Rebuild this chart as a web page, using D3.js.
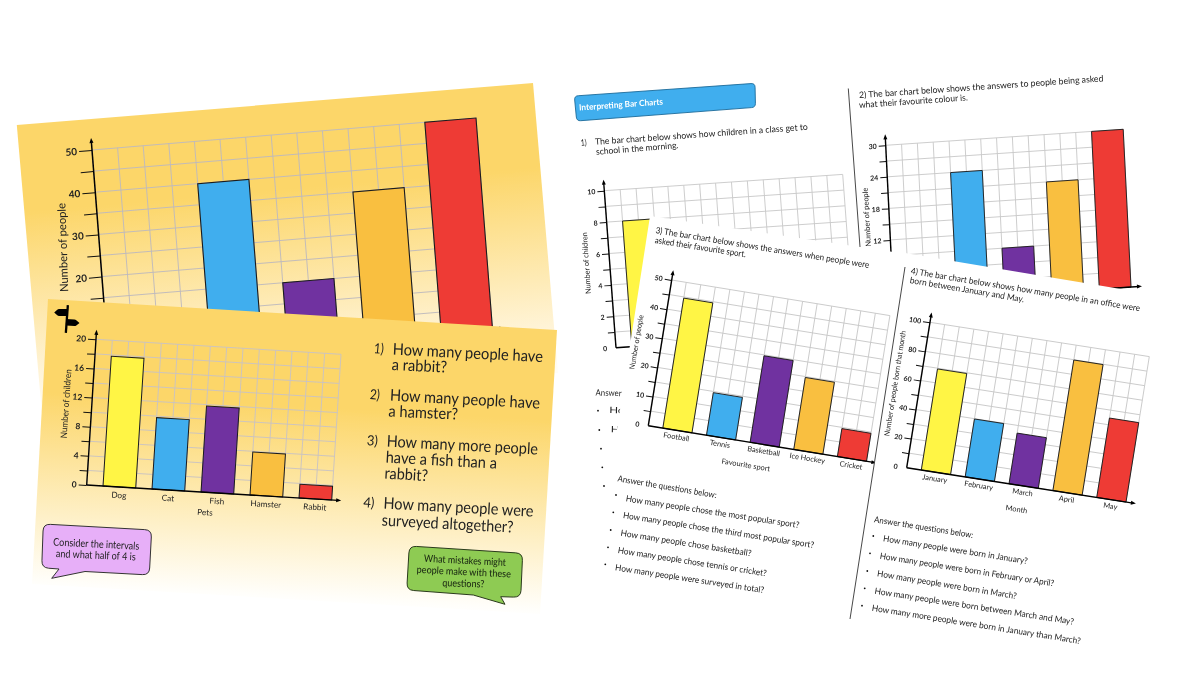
<!DOCTYPE html>
<html>
<head>
<meta charset="utf-8">
<title>Interpreting Bar Charts</title>
<script src="https://cdn.jsdelivr.net/npm/d3@7"></script>
<style>
    html, body { margin: 0; padding: 0; background: #fff; }
    svg { display: block; }
    text { font-family: Lato, "Open Sans", sans-serif; fill: #222; }
</style>
</head>
<body>
<div id="chart-area"></div>
<script>
// Slide charts
var slotLabels = ["1", "2", "3", "4", "5"];
var slideTopValues = [null, 40, 15, 35, 50];
var petLabels = ["Dog", "Cat", "Fish", "Hamster", "Rabbit"];
var petValues = [17.8, 9.8, 11.8, 5.9, 1.9];

// Worksheet charts
var travelValues = [8, null, null, null, null];
var colourValues = [null, 24, 9, 21, 30];
var sportLabels = ["Football", "Tennis", "Basketball", "Ice Hockey", "Cricket"];
var sportValues = [44.6, 14.6, 29.7, 24.7, 9.6];
var monthLabels = ["January", "February", "March", "April", "May"];
var monthValues = [69.5, 39.8, 34.8, 89.8, 54.6];

// Bar colours, same order on every chart
var barColours = ["#fff544", "#3faeee", "#7030a0", "#f9bf41", "#ee3a35"];

// Text
var slideQuestions = [
    "1)", "How many people have", "a rabbit?",
    "2)", "How many people have", "a hamster?",
    "3)", "How many more people", "have a fish than a", "rabbit?",
    "4)", "How many people were", "surveyed altogether?"
];
var slideQuestionPos = [
    [374, 348, 384, 349], [392.7, 349, 543, 356.5], [391.7, 364.5, 447, 367],
    [370, 394, 380, 395], [390, 395, 540, 403], [388.5, 411, 458, 414],
    [367, 440, 378, 441], [386.7, 441, 538, 449], [385.7, 457, 497, 463], [384.5, 473, 428, 475.5],
    [363.5, 502, 374.5, 503], [383.5, 503, 533.5, 511], [381.7, 520, 513.5, 527]
];
var sportQuestions = [
    "Answer the questions below:",
    "How many people chose the most popular sport?",
    "How many people chose the third most popular sport?",
    "How many people chose basketball?",
    "How many people chose tennis or cricket?",
    "How many people were surveyed in total?"
];
var sportQuestionPos = [
    [617.7, 478.3, 716.7, 495], [626, 498.3, 799.3, 525], [623.3, 515, 814, 545],
    [620.7, 532.7, 751.3, 553.3], [618, 550, 766.7, 573.3], [615.3, 567.3, 764, 590]
];
var monthQuestions = [
    "Answer the questions below:",
    "How many people were born in January?",
    "How many people were born in February or April?",
    "How many people were born in March?",
    "How many people were born between March and May?",
    "How many more people were born in January than March?"
];
var monthQuestionPos = [
    [874.3, 519.3, 973.3, 535], [883.3, 538.3, 1027.7, 561], [880, 555.7, 1054, 583.3],
    [877.3, 573.3, 1016.7, 596], [874.7, 590.7, 1074, 621.7], [872, 607.7, 1080.7, 641]
];

var width = 1200, height = 675;
var sheetFont = 8.7;

var svg = d3.select("#chart-area")
    .append("svg")
        .attr("width", width)
        .attr("height", height);

var defs = svg.append("defs");

defs.append("filter")
    .attr("id", "soft")
    .attr("x", 0).attr("y", 0).attr("width", 1).attr("height", 1)
    .attr("filterUnits", "objectBoundingBox")
    .append("feGaussianBlur")
    .attr("stdDeviation", 0.35);

// slide backgrounds fade from yellow to white
function addGradient(id, p, stops){
    var grad = defs.append("linearGradient")
        .attr("id", id)
        .attr("gradientUnits", "userSpaceOnUse")
        .attr("x1", p[0]).attr("y1", p[1])
        .attr("x2", p[2]).attr("y2", p[3]);
    stops.forEach(function(s){
        grad.append("stop").attr("offset", s[0]).attr("stop-color", s[1]);
    });
}
addGradient("slide-top", [16.8, 125, 42, 414], [[0, "#fcd669"], [0.3, "#fcd669"], [0.88, "#fff5dc"], [1, "#fffdf6"]]);
addGradient("slide-pets", [48, 299, 32, 590], [[0, "#fcd669"], [0.32, "#fcd669"], [0.97, "#fffefa"], [1, "#ffffff"]]);

var root = svg.append("g")
    .attr("filter", "url(#soft)");

// full size rect so the filter region covers the page
root.append("rect").attr("width", width).attr("height", height).attr("fill", "#fff");

function polygon(parent, pts, fill){
    return parent.append("polygon")
        .attr("points", pts.map(function(p){ return p.join(","); }).join(" "))
        .attr("fill", fill);
}

// one line of text stretched between two points, p = [x0, y0, x1, y1]
function textLine(parent, str, p, size, colour, weight){
    var angle = Math.atan2(p[3] - p[1], p[2] - p[0]) * 180 / Math.PI;
    var len = Math.sqrt((p[2] - p[0]) * (p[2] - p[0]) + (p[3] - p[1]) * (p[3] - p[1]));
    return parent.append("text")
        .attr("transform", "translate(" + p[0] + "," + p[1] + ") rotate(" + angle + ")")
        .attr("dy", "0.35em")
        .attr("font-size", size)
        .attr("font-weight", weight || 400)
        .attr("textLength", len)
        .attr("lengthAdjust", "spacingAndGlyphs")
        .style("fill", colour || "#222")
        .text(str);
}

// polygon with rounded corners, radii[i] is the radius at pts[i]
function roundedPath(pts, radii){
    var path = d3.path();
    var n = pts.length;
    pts.forEach(function(p, i){
        var prev = pts[(i + n - 1) % n], next = pts[(i + 1) % n];
        var r = radii[i];
        var d1 = Math.hypot(prev[0] - p[0], prev[1] - p[1]);
        var d2 = Math.hypot(next[0] - p[0], next[1] - p[1]);
        var a = [p[0] + (prev[0] - p[0]) * r / d1, p[1] + (prev[1] - p[1]) * r / d1];
        var b = [p[0] + (next[0] - p[0]) * r / d2, p[1] + (next[1] - p[1]) * r / d2];
        if (i == 0) path.moveTo(a[0], a[1]); else path.lineTo(a[0], a[1]);
        path.quadraticCurveTo(p[0], p[1], b[0], b[1]);
    });
    path.closePath();
    return path.toString();
}

function callout(parent, pts, radii, fill, stroke, sw){
    parent.append("path")
        .attr("d", roundedPath(pts, radii))
        .attr("fill", fill)
        .attr("stroke", stroke)
        .attr("stroke-width", sw);
}

// Draw one chart. The three points o.O, o.X, o.Y are where the origin, the end
// of the x axis and the top of the y axis land on the tilted page.
function barChart(parent, o){
    var W = Math.hypot(o.X[0] - o.O[0], o.X[1] - o.O[1]);
    var H = Math.hypot(o.Y[0] - o.O[0], o.Y[1] - o.O[1]);
    var a = (o.X[0] - o.O[0]) / W, b = (o.X[1] - o.O[1]) / W;
    var c = (o.O[0] - o.Y[0]) / H, d = (o.O[1] - o.Y[1]) / H;

    var g = parent.append("g")
        .attr("transform", "matrix(" + [a, b, c, d, o.Y[0], o.Y[1]].join(",") + ")");

    var y = d3.scaleLinear().domain([0, o.max]).range([H, 0]);
    var x = d3.scaleBand()
        .domain(o.categories)
        .range([0, W])
        .paddingInner(1 / 3)
        .paddingOuter(1 / 6)
        .align(1);

    // grid, 15 columns
    var rows = d3.range(0, o.max + o.rowStep / 2, o.rowStep);
    g.selectAll(".grid-row").data(rows).enter().append("line")
        .attr("x1", 0).attr("x2", W)
        .attr("y1", function(v){ return y(v); })
        .attr("y2", function(v){ return y(v); })
        .attr("stroke", o.gridColour)
        .attr("stroke-width", 0.9);
    g.selectAll(".grid-col").data(d3.range(0, 16)).enter().append("line")
        .attr("x1", function(i){ return i * W / 15; })
        .attr("x2", function(i){ return i * W / 15; })
        .attr("y1", 0).attr("y2", H)
        .attr("stroke", o.gridColour)
        .attr("stroke-width", 0.9);

    // bars
    g.selectAll(".bar").data(o.values).enter().append("rect")
        .filter(function(v){ return v != null; })
        .attr("x", function(v){ return x(o.categories[o.values.indexOf(v)]); })
        .attr("y", function(v){ return y(v); })
        .attr("width", x.bandwidth())
        .attr("height", function(v){ return H - y(v); })
        .attr("fill", function(v){ return barColours[o.values.indexOf(v)]; })
        .attr("stroke", "#1c1c1c")
        .attr("stroke-width", o.barStroke);

    // y axis ticks and labels
    var yAxis = d3.axisLeft(y)
        .tickValues(rows)
        .tickSize(o.tickSize)
        .tickPadding(2)
        .tickFormat(function(v){ return v % o.labelStep == 0 ? v : ""; });
    var yGroup = g.append("g").call(yAxis);
    yGroup.select(".domain").remove();
    yGroup.selectAll(".tick line").attr("stroke", "#111").attr("stroke-width", 1);
    if (!o.zeroStub){
        yGroup.selectAll(".tick").filter(function(v){ return v == 0; }).select("line").remove();
    }
    yGroup.selectAll("text")
        .attr("font-size", o.tickFont)
        .attr("font-weight", 700)
        .style("font-family", "Lato, sans-serif");

    // axis lines with arrow heads
    var over = o.overshoot;
    g.append("line")
        .attr("x1", 0).attr("x2", 0)
        .attr("y1", H).attr("y2", -over + 3)
        .attr("stroke", "#000").attr("stroke-width", o.axisStroke);
    polygon(g, [[0, -over], [-2, -over + 5], [2, -over + 5]], "#000");
    g.append("line")
        .attr("x1", 0).attr("x2", W + over - 3)
        .attr("y1", H).attr("y2", H)
        .attr("stroke", "#000").attr("stroke-width", o.axisStroke);
    polygon(g, [[W + over, H], [W + over - 5, H - 2], [W + over - 5, H + 2]], "#000");

    // x labels
    if (o.showLabels){
        g.selectAll(".x-label").data(o.categories).enter().append("text")
            .attr("x", function(c){ return x(c) + x.bandwidth() / 2; })
            .attr("y", H + o.labelGap)
            .attr("text-anchor", "middle")
            .attr("font-size", o.labelFont)
            .text(function(c){ return c; });
        g.append("text")
            .attr("x", W / 2 + o.titleDx)
            .attr("y", H + o.titleGap)
            .attr("text-anchor", "middle")
            .attr("font-size", o.labelFont)
            .text(o.xTitle);
    }

    // y title sits on the page
    textLine(parent, o.yTitle, o.yTitlePos, o.yTitleFont);
}

// ---------- top slide ----------
var slideTop = root.append("g");
polygon(slideTop, [[16.8, 125], [533, 83], [558, 373], [42, 414]], "url(#slide-top)");
barChart(slideTop, {
    O: [108.5, 361], X: [492.5, 329], Y: [92, 150],
    categories: slotLabels, values: slideTopValues,
    max: 50, rowStep: 5, labelStep: 10,
    gridColour: "#bdb9bd", barStroke: 1.1, axisStroke: 1.5,
    tickSize: 13, tickFont: 10, overshoot: 12,
    showLabels: false, yTitle: "Number of people",
    yTitlePos: [64.3, 292, 61.4, 203], yTitleFont: 11.5
});

// ---------- pets slide ----------
var slidePets = root.append("g");
polygon(slidePets, [[48, 299], [557, 330], [540, 614], [32, 584]], "url(#slide-pets)");

// signpost
var sign = slidePets.append("g").attr("fill", "#000");
polygon(sign, [[66.7, 305], [69, 305.2], [67, 333], [64.7, 332.8]], "#000");
sign.append("path").attr("d", roundedPath(
    [[68, 309], [68, 316], [58, 316], [54.2, 312.5], [58, 309]], [0, 0, 1, 0, 1]));
sign.append("path").attr("d", roundedPath(
    [[66, 319], [75.5, 319.5], [79.5, 323], [75.5, 326], [66, 325.5]], [0, 1, 0, 1, 0]));

barChart(slidePets, {
    O: [86.7, 485], X: [331.7, 500], Y: [96, 339.3],
    categories: petLabels, values: petValues,
    max: 20, rowStep: 2, labelStep: 4,
    gridColour: "#c9c3c2", barStroke: 1, axisStroke: 1.4,
    tickSize: 8, tickFont: 8.5, overshoot: 9.5, zeroStub: true,
    showLabels: true, labelGap: 11, labelFont: 8.2,
    xTitle: "Pets", titleGap: 23, titleDx: -3,
    yTitle: "Number of children", yTitlePos: [63.5, 438.3, 68.3, 369.3], yTitleFont: 9
});

slideQuestions.forEach(function(q, i){
    textLine(slidePets, q, slideQuestionPos[i], q.length == 2 ? 14 : 16);
});

callout(slidePets,
    [[43.3, 524], [151.7, 530], [149.3, 575], [85, 571.5], [51.7, 578.3], [59, 569], [41.7, 567.7]],
    [7, 7, 7, 0, 0, 0, 7], "#e7aff8", "#333", 1);
textLine(slidePets, "Consider the intervals", [53.3, 541.7, 139.3, 546], 10.5, "#222");
textLine(slidePets, "and what half of 4 is", [56, 553.3, 135.7, 556.7], 10.5, "#222");

callout(slidePets,
    [[409.3, 546], [522.7, 553.3], [520.7, 597.3], [500.7, 596.7], [505, 604.3], [473.3, 595], [406.7, 590]],
    [7, 7, 7, 0, 0, 0, 7], "#8ecb52", "#2a3a1c", 1);
textLine(slidePets, "What mistakes might", [424, 558.3, 506, 562.3], 10, "#1c2a14", 500);
textLine(slidePets, "people make with these", [416.7, 569.3, 511, 574], 10, "#1c2a14", 500);
textLine(slidePets, "questions?", [442.3, 582.7, 484.3, 584], 10, "#1c2a14", 500);

// ---------- worksheet, back pages ----------
var sheetBack = root.append("g");

var titleBox = [[574.3, 96], [755, 83.3], [755.5, 107.3], [576.7, 121]];
callout(sheetBack, titleBox, [4, 4, 4, 4], "#3faeee", "#1d6b9a", 0.9);
textLine(sheetBack, "Interpreting Bar Charts", [579, 107.5, 663, 101.5], 8.5, "#fff", 700);

textLine(sheetBack, "1)", [580.7, 142.7, 586.5, 142.2], sheetFont);
textLine(sheetBack, "The bar chart below shows how children in a class get to", [595, 141.7, 807.7, 126.7], sheetFont);
textLine(sheetBack, "school in the morning.", [596, 151.7, 678.3, 145], sheetFont);

barChart(sheetBack, {
    O: [616, 347.7], X: [854.4, 331.4], Y: [604.3, 190.7],
    categories: slotLabels, values: travelValues,
    max: 10, rowStep: 1, labelStep: 2,
    gridColour: "#c9c9c9", barStroke: 0.9, axisStroke: 1.4,
    tickSize: 7, tickFont: 7, overshoot: 11,
    showLabels: false, yTitle: "Number of children",
    yTitlePos: [588.3, 294, 584.3, 232.3], yTitleFont: 7.5
});

textLine(sheetBack, "Answer the questions below:", [595.7, 392.5, 694, 395], sheetFont);
// the rest of this list is behind the sport page
[[609.3, 410, 700, 412], [610.7, 429.3, 700, 431]].forEach(function(p){
    textLine(sheetBack, "How many people", p, sheetFont);
});
[[598, 410.7], [599.3, 430], [601, 448.7], [602.3, 467.3], [604, 486]].forEach(function(p){
    sheetBack.append("circle").attr("cx", p[0]).attr("cy", p[1]).attr("r", 0.9).attr("fill", "#111");
});

// divider between the two back pages
sheetBack.append("line")
    .attr("x1", 848.3).attr("y1", 88.5).attr("x2", 860).attr("y2", 247)
    .attr("stroke", "#333").attr("stroke-width", 0.9);

textLine(sheetBack, "2) The bar chart below shows the answers to people being asked", [859, 95, 1103.3, 78.3], sheetFont);
textLine(sheetBack, "what their favourite colour is.", [859, 105, 967.7, 97.3], sheetFont);

barChart(sheetBack, {
    O: [893.5, 303], X: [1131, 287], Y: [885.7, 145.3],
    categories: slotLabels, values: colourValues,
    max: 30, rowStep: 3, labelStep: 6,
    gridColour: "#c9c9c9", barStroke: 0.9, axisStroke: 1.4,
    tickSize: 7, tickFont: 7, overshoot: 11,
    showLabels: false, yTitle: "Number of people",
    yTitlePos: [868.3, 246.7, 865, 187.7], yTitleFont: 7.5
});

// ---------- sport page ----------
var sheetSport = root.append("g");
polygon(sheetSport, [[650, 216], [907, 254], [875, 640], [589, 610]], "#fff");

textLine(sheetSport, "3) The bar chart below shows the answers when people were", [655.7, 230, 869.3, 265], sheetFont);
textLine(sheetSport, "asked their favourite sport.", [655, 240, 746, 254.3], sheetFont);

barChart(sheetSport, {
    O: [648.3, 425.7], X: [866.5, 461.3], Y: [671.7, 280],
    categories: sportLabels, values: sportValues,
    max: 50, rowStep: 5, labelStep: 10,
    gridColour: "#c9c9c9", barStroke: 0.9, axisStroke: 1.4,
    tickSize: 7, tickFont: 7, overshoot: 10,
    showLabels: true, labelGap: 9, labelFont: 7.4,
    xTitle: "Favourite sport", titleGap: 25.5, titleDx: -8,
    yTitle: "Number of people", yTitlePos: [631.7, 369.3, 641, 315], yTitleFont: 7.5
});

sportQuestions.forEach(function(q, i){
    textLine(sheetSport, q, sportQuestionPos[i], sheetFont);
});
[[616, 495], [613.3, 512.3], [610.7, 530], [608, 547.3], [605.3, 564.3]].forEach(function(p){
    sheetSport.append("circle").attr("cx", p[0]).attr("cy", p[1]).attr("r", 0.9).attr("fill", "#111");
});

// ---------- month page ----------
var sheetMonth = root.append("g");
polygon(sheetMonth, [[905, 253], [1175, 298], [1145, 665], [850, 630]], "#fff");

// divider on the left of this page
sheetMonth.append("line")
    .attr("x1", 905).attr("y1", 267).attr("x2", 850).attr("y2", 619)
    .attr("stroke", "#333").attr("stroke-width", 0.9);

textLine(sheetMonth, "4) The bar chart below shows how many people in an office were", [911, 270.7, 1140, 308.3], sheetFont);
textLine(sheetMonth, "born between January and May.", [910, 280, 1024.3, 299.3], sheetFont);

barChart(sheetMonth, {
    O: [906.7, 467.7], X: [1126, 502], Y: [930, 322.3],
    categories: monthLabels, values: monthValues,
    max: 100, rowStep: 10, labelStep: 20,
    gridColour: "#c9c9c9", barStroke: 0.9, axisStroke: 1.4,
    tickSize: 7, tickFont: 7, overshoot: 10,
    showLabels: true, labelGap: 9, labelFont: 7.4,
    xTitle: "Month", titleGap: 26.5, titleDx: 4,
    yTitle: "Number of people born that month", yTitlePos: [886.7, 436, 903.3, 330.7], yTitleFont: 7.5
});

monthQuestions.forEach(function(q, i){
    textLine(sheetMonth, q, monthQuestionPos[i], sheetFont);
});
[[873.3, 536], [870, 553.3], [867.3, 571], [864.7, 588.3], [862, 605.7]].forEach(function(p){
    sheetMonth.append("circle").attr("cx", p[0]).attr("cy", p[1]).attr("r", 0.9).attr("fill", "#111");
});
</script>
</body>
</html>
